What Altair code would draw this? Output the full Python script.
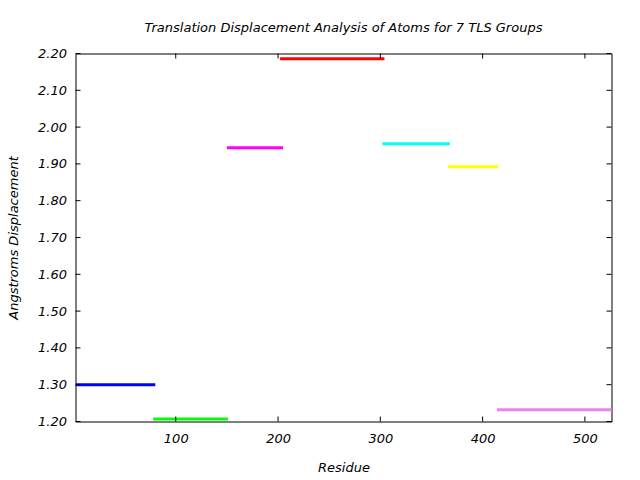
import altair as alt
import pandas as pd

groups = ["1", "2", "3", "4", "5", "6", "7"]
starts = [2, 78, 150, 202, 302, 366, 414]
ends = [80, 151, 205, 304, 368, 415, 527]
values = [1.300, 1.207, 1.944, 2.186, 1.955, 1.892, 1.232]
colors = ["#0000ff", "#00ff00", "#ff00ff", "#ff0000", "#00ffff", "#ffff00", "#ee82ee"]
x_ticks = [100, 200, 300, 400, 500]
y_ticks = [1.2, 1.3, 1.4, 1.5, 1.6, 1.7, 1.8, 1.9, 2.0, 2.1, 2.2]

W, H = 536, 368
FONT = "DejaVu Sans"
FS = 13

seg = pd.DataFrame({"group": groups, "start": starts, "end": ends, "value": values})
xt = pd.DataFrame({"t": x_ticks})
yt = pd.DataFrame({"t": y_ticks})

xscale = alt.Scale(domain=[2, 526], nice=False, zero=False)
yscale = alt.Scale(domain=[1.2, 2.2], nice=False, zero=False)

xaxis = alt.Axis(values=x_ticks, ticks=False, tickSize=0, domain=False, grid=False,
                 labelFont=FONT, labelFontSize=FS, labelFontStyle="italic", labelColor="black",
                 labelPadding=11, labelOverlap=False, title="Residue", titleFont=FONT,
                 titleFontSize=FS, titleFontStyle="italic", titleFontWeight="normal",
                 titleColor="black", titleY=46, titleBaseline="middle")
yaxis = alt.Axis(values=y_ticks, format=".2f", ticks=False, tickSize=0, domain=False, grid=False,
                 labelFont=FONT, labelFontSize=FS, labelFontStyle="italic", labelColor="black",
                 labelPadding=9, labelOverlap=False, title="Angstroms Displacement",
                 titleFont=FONT, titleFontSize=FS, titleFontStyle="italic",
                 titleFontWeight="normal", titleColor="black",
                 titleX=-62, titleY=H / 2, titleAngle=270, titleAlign="center",
                 titleBaseline="middle")

lines = alt.Chart(seg).mark_rule(strokeWidth=3, clip=True).encode(
    x=alt.X("start:Q", scale=xscale, axis=xaxis),
    x2="end:Q",
    y=alt.Y("value:Q", scale=yscale, axis=yaxis),
    color=alt.Color("group:N", scale=alt.Scale(domain=groups, range=colors), legend=None),
)

tick_bottom = alt.Chart(xt).mark_rule(color="black", strokeWidth=1).encode(
    x=alt.X("t:Q", scale=xscale, axis=xaxis), y=alt.value(H), y2=alt.value(H - 5))
tick_top = alt.Chart(xt).mark_rule(color="black", strokeWidth=1).encode(
    x=alt.X("t:Q", scale=xscale, axis=xaxis), y=alt.value(0), y2=alt.value(5))
tick_left = alt.Chart(yt).mark_rule(color="black", strokeWidth=1).encode(
    y=alt.Y("t:Q", scale=yscale, axis=yaxis), x=alt.value(0), x2=alt.value(5))
tick_right = alt.Chart(yt).mark_rule(color="black", strokeWidth=1).encode(
    y=alt.Y("t:Q", scale=yscale, axis=yaxis), x=alt.value(W), x2=alt.value(W - 5))

chart = alt.layer(lines, tick_bottom, tick_top, tick_left, tick_right).properties(
    width=W, height=H,
    background="white",
    autosize=alt.AutoSizeParams(type="none"),
    padding={"left": 75.5, "top": 53.5, "right": 28.5, "bottom": 58.5},
    title=alt.Title("Translation Displacement Analysis of Atoms for 7 TLS Groups",
                    font=FONT, fontSize=FS, fontStyle="italic", fontWeight="normal",
                    color="black", anchor="middle", offset=13),
).configure_view(stroke="black", strokeWidth=1)

chart.save("out.html", embed_options={"renderer": "svg", "actions": False})
